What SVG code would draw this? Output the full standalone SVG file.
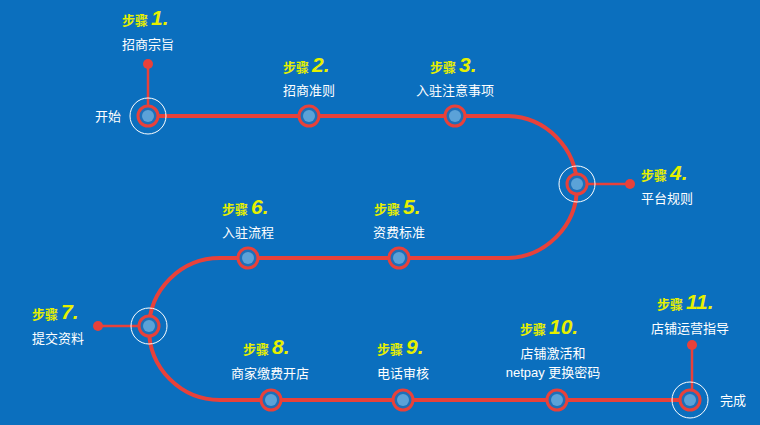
<svg xmlns="http://www.w3.org/2000/svg" width="760" height="425" viewBox="0 0 760 425">
<style>
.s{font-family:"Noto Sans CJK SC",sans-serif;font-size:13px;font-weight:bold;fill:#e6f000}
.n{font-family:"Liberation Sans",sans-serif;font-size:21px;font-style:italic;font-weight:bold;fill:#e6f000}
.t{font-family:"Liberation Sans","Noto Sans CJK SC",sans-serif;font-size:13px;fill:#fff;text-anchor:middle}
.ring{fill:#1e6fb8;stroke:#e8413a;stroke-width:3}
.core{fill:#5ba2d8}
.halo{fill:none;stroke:#fff;stroke-width:1}
.ln{fill:none;stroke:#e8413a;stroke-width:4}
.dot{fill:#e8413a}
</style>
<rect width="760" height="425" fill="#0b6fbe"/>
<g id="connectors">
<path class="ln" d="M148,116 H506 A71,71 0 0 1 506,258 H220 A71,71 0 0 0 220,400 H690"/>
<path class="ln" d="M148,64 V116 M577,184 H630 M98,326 H149 M692,345 V400" style="stroke-width:2.5"/>
<circle class="dot" cx="148" cy="64" r="5"/><circle class="dot" cx="630" cy="184" r="5"/>
<circle class="dot" cx="98" cy="326" r="5"/><circle class="dot" cx="692" cy="345" r="5"/>
</g>
<g id="n1"><circle class="halo" cx="148" cy="116" r="18"/><circle class="ring" cx="148" cy="116" r="10"/><circle class="core" cx="148" cy="116" r="6"/>
<text x="122" y="25"><tspan class="s">步骤 </tspan><tspan class="n">1.</tspan></text><text class="t" x="148" y="49">招商宗旨</text><text class="t" x="108" y="121">开始</text></g>
<g id="n2"><circle class="ring" cx="309" cy="116" r="10"/><circle class="core" cx="309" cy="116" r="6"/>
<text x="283" y="72"><tspan class="s">步骤 </tspan><tspan class="n">2.</tspan></text><text class="t" x="309" y="95">招商准则</text></g>
<g id="n3"><circle class="ring" cx="455" cy="116" r="10"/><circle class="core" cx="455" cy="116" r="6"/>
<text x="430" y="72"><tspan class="s">步骤 </tspan><tspan class="n">3.</tspan></text><text class="t" x="455" y="95">入驻注意事项</text></g>
<g id="n4"><circle class="halo" cx="577" cy="184" r="18"/><circle class="ring" cx="577" cy="184" r="10"/><circle class="core" cx="577" cy="184" r="6"/>
<text x="641" y="180"><tspan class="s">步骤 </tspan><tspan class="n">4.</tspan></text><text class="t" x="667" y="203">平台规则</text></g>
<g id="n5"><circle class="ring" cx="399" cy="258" r="10"/><circle class="core" cx="399" cy="258" r="6"/>
<text x="374" y="214"><tspan class="s">步骤 </tspan><tspan class="n">5.</tspan></text><text class="t" x="399" y="237">资费标准</text></g>
<g id="n6"><circle class="ring" cx="248" cy="258" r="10"/><circle class="core" cx="248" cy="258" r="6"/>
<text x="222" y="214"><tspan class="s">步骤 </tspan><tspan class="n">6.</tspan></text><text class="t" x="248" y="237">入驻流程</text></g>
<g id="n7"><circle class="halo" cx="149" cy="326" r="18"/><circle class="ring" cx="149" cy="326" r="10"/><circle class="core" cx="149" cy="326" r="6"/>
<text x="32" y="319"><tspan class="s">步骤 </tspan><tspan class="n">7.</tspan></text><text class="t" x="58" y="343">提交资料</text></g>
<g id="n8"><circle class="ring" cx="271" cy="400" r="10"/><circle class="core" cx="271" cy="400" r="6"/>
<text x="243" y="354"><tspan class="s">步骤 </tspan><tspan class="n">8.</tspan></text><text class="t" x="270" y="378">商家缴费开店</text></g>
<g id="n9"><circle class="ring" cx="403" cy="400" r="10"/><circle class="core" cx="403" cy="400" r="6"/>
<text x="377" y="354"><tspan class="s">步骤 </tspan><tspan class="n">9.</tspan></text><text class="t" x="403" y="378">电话审核</text></g>
<g id="n10"><circle class="ring" cx="557" cy="400" r="10"/><circle class="core" cx="557" cy="400" r="6"/>
<text x="520" y="334"><tspan class="s">步骤 </tspan><tspan class="n">10.</tspan></text><text class="t" x="553" y="358">店铺激活和</text><text class="t" x="553" y="377">netpay 更换密码</text></g>
<g id="n11"><circle class="halo" cx="690" cy="400" r="18"/><circle class="ring" cx="690" cy="400" r="10"/><circle class="core" cx="690" cy="400" r="6"/>
<text x="657" y="309"><tspan class="s">步骤 </tspan><tspan class="n">11.</tspan></text><text class="t" x="690" y="333">店铺运营指导</text><text class="t" x="733" y="405">完成</text></g>
</svg>
